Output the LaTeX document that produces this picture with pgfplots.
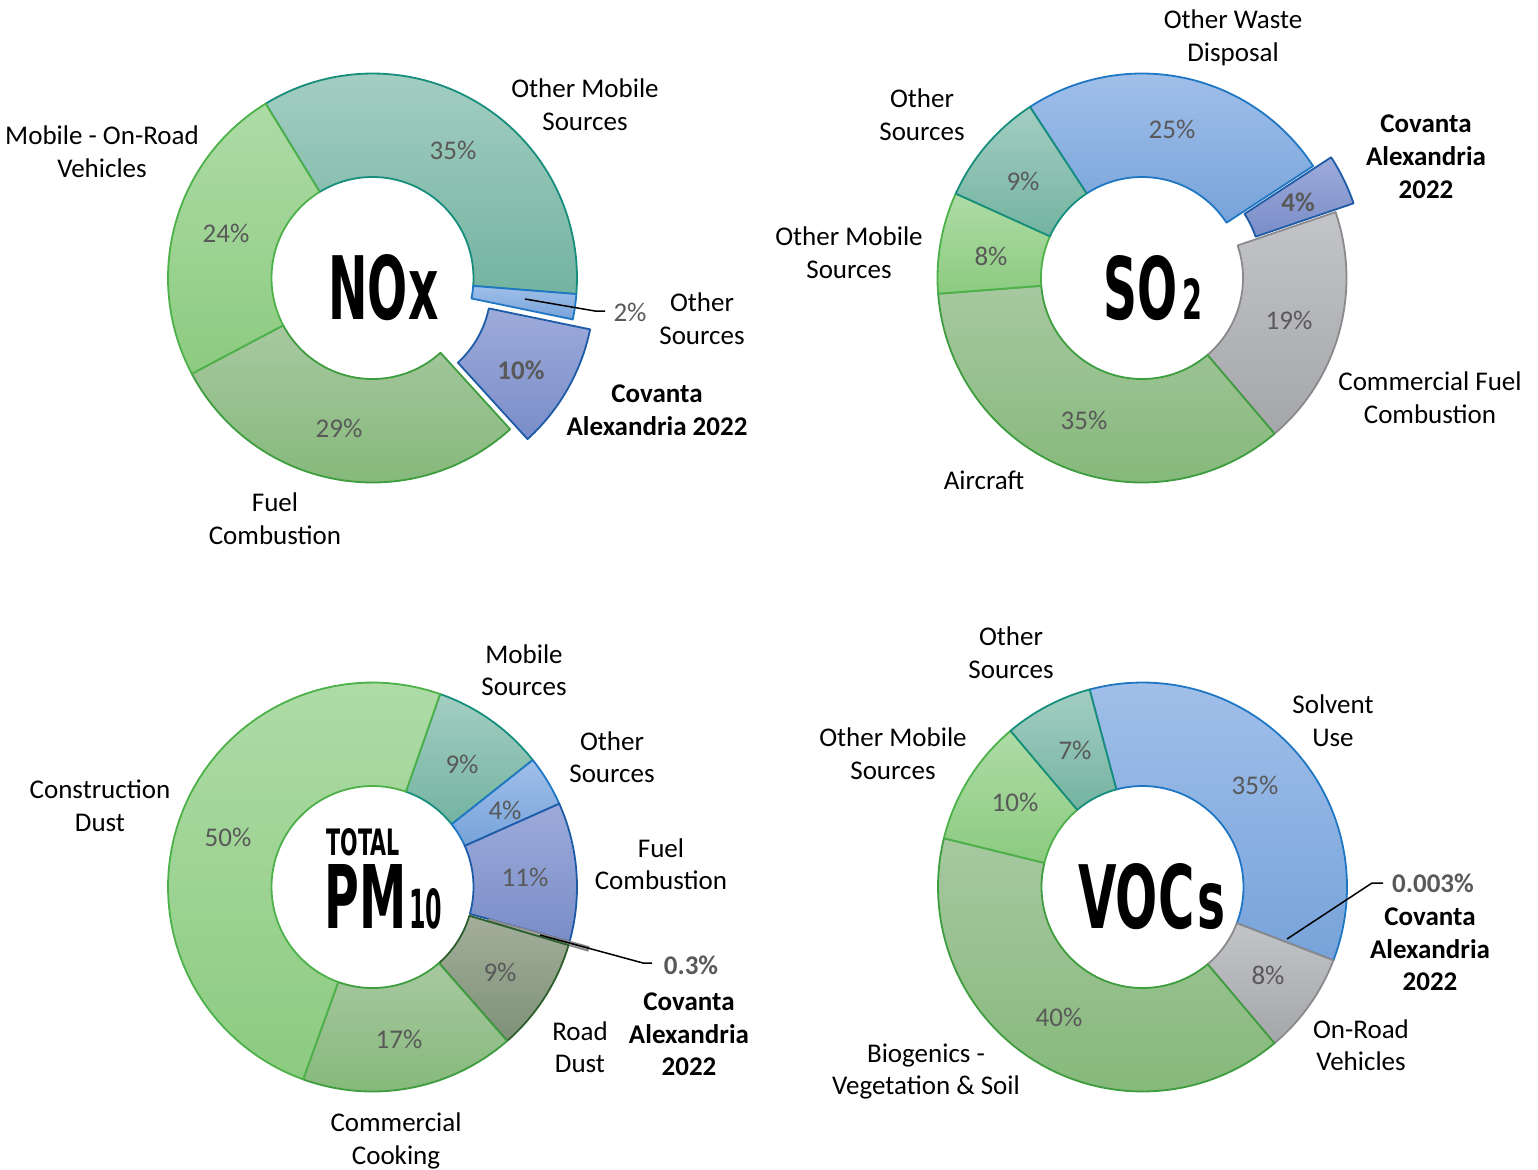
\documentclass[border=0pt]{standalone}
\usepackage{pgfplots}
\pgfplotsset{compat=1.18}
\usepackage{fontspec}
\usepackage{graphicx}
\setmainfont{Carlito}
\newfontfamily\titlefont{DejaVu Sans Condensed}

\definecolor{tealT}{HTML}{A3CEC2}\definecolor{tealB}{HTML}{74B3A1}\definecolor{tealD}{HTML}{168E7C}
\definecolor{lgrT}{HTML}{AEDBA6}\definecolor{lgrB}{HTML}{8CCB80}\definecolor{lgrD}{HTML}{4DB14A}
\definecolor{grT}{HTML}{A7C8A0}\definecolor{grB}{HTML}{86B97B}\definecolor{grD}{HTML}{3E9D3E}
\definecolor{blT}{HTML}{A0BFE9}\definecolor{blB}{HTML}{77A3DA}\definecolor{blD}{HTML}{1F77C4}
\definecolor{puT}{HTML}{9DABDA}\definecolor{puB}{HTML}{7A8DC8}\definecolor{puD}{HTML}{1E5BA6}
\definecolor{gyT}{HTML}{C3C4C7}\definecolor{gyB}{HTML}{A5A6AA}\definecolor{gyD}{HTML}{8A8A8C}
\definecolor{rdT}{HTML}{A3AE9B}\definecolor{rdB}{HTML}{7E9177}\definecolor{rdD}{HTML}{2C5E2C}
\definecolor{pctgray}{HTML}{595959}

\tikzset{
  s-teal/.style={top color=tealT,bottom color=tealB,draw=tealD},
  s-lgreen/.style={top color=lgrT,bottom color=lgrB,draw=lgrD},
  s-green/.style={top color=grT,bottom color=grB,draw=grD},
  s-blue/.style={top color=blT,bottom color=blB,draw=blD},
  s-pur/.style={top color=puT,bottom color=puB,draw=puD},
  s-gray/.style={top color=gyT,bottom color=gyB,draw=gyD},
  s-road/.style={top color=rdT,bottom color=rdB,draw=rdD},
}

\def\Ro{204.5}
\def\Ri{101}
\newcommand\donut[4]{\gdef\dcx{#1}\gdef\dcy{#2}\gdef\dang{#3}\gdef\dtot{#4}}
% ring segment: outer arc a->b, then inner arc b->a (122 samples over t in [0,2])
\newcommand\seg[3][0]{%
  \pgfmathsetmacro\segA{\dang}%
  \pgfmathsetmacro\segB{\dang+(#2/\dtot)*360}%
  \pgfmathsetmacro\segM{(\segA+\segB)/2}%
  \pgfmathsetmacro\segX{\dcx+#1*sin(\segM)}%
  \pgfmathsetmacro\segY{\dcy-#1*cos(\segM)}%
  \edef\doseg{\noexpand\addplot[#3, line width=0.9pt, line join=round, domain=0:2, samples=122]
    ({\segX+(x<1?\Ro:\Ri)*sin(\segA+(\segB-\segA)*min(1,(x<1?x:2-x)*1.0083333))},
     {\segY-(x<1?\Ro:\Ri)*cos(\segA+(\segB-\segA)*min(1,(x<1?x:2-x)*1.0083333))}) -- cycle;}%
  \doseg
  \global\let\dang\segB}

\newcommand\lf{\fontsize{13.5}{16.5}\selectfont}
\newcommand\tl[4][]{\node[anchor=base, inner sep=0pt, font=\lf, #1] at (axis cs:#2,#3) {#4};}
\newcommand\pl[4][]{\node[anchor=base, inner sep=0pt, font=\lf, text=pctgray, #1] at (axis cs:#2,#3) {#4};}
\newcommand\tf{\titlefont\bfseries}

\begin{document}
\begin{tikzpicture}
\begin{axis}[x=0.5pt, y=0.5pt, xmin=0, xmax=1538, ymin=0, ymax=1169, y dir=reverse,
  hide axis, clip=false]
\path (axis cs:0,0) rectangle (axis cs:1538,1169);

% ---------------- NOx ----------------
\donut{372.5}{278}{328.5}{100}
\seg{35}{s-teal}
\seg{2}{s-blue}
\seg[20]{10}{s-pur}
\seg{29}{s-green}
\seg{24}{s-lgreen}
\addplot[black, line width=0.75pt] coordinates {(525,299) (595,311) (605,311)};
\node[anchor=base west, inner sep=0pt] at (axis cs:328,319) {\resizebox{55pt}{32.5pt}{\tf NOx}};
\tl{585}{97}{Other Mobile}
\tl{585}{130}{Sources}
\tl{102}{144}{Mobile - On-Road}
\tl{102}{177}{Vehicles}
\tl{702}{311}{Other}
\tl{702}{344}{Sources}
\tl[font=\lf\bfseries]{657}{402}{Covanta}
\tl[font=\lf\bfseries]{657}{435}{Alexandria 2022}
\tl{275}{511}{Fuel}
\tl{275}{544}{Combustion}
\pl{453}{159}{35\%}
\pl{226}{242}{24\%}
\pl{339}{437}{29\%}
\pl[font=\lf\bfseries]{521}{379}{10\%}
\pl{630}{321}{2\%}

% ---------------- SO2 ----------------
\donut{1142}{278}{326.8}{100}
\seg{25}{s-blue}
\seg[20]{4}{s-pur}
\seg{19}{s-gray}
\seg{35}{s-green}
\seg{8}{s-lgreen}
\seg{9}{s-teal}
\node[anchor=base west, inner sep=0pt] at (axis cs:1103,319) {\resizebox{37pt}{32pt}{\tf SO}\kern2.5pt\resizebox{10pt}{20.5pt}{\tf 2}};
\tl{1233}{28}{Other Waste}
\tl{1233}{61}{Disposal}
\tl{922}{107}{Other}
\tl{922}{140}{Sources}
\tl[font=\lf\bfseries]{1426}{132}{Covanta}
\tl[font=\lf\bfseries]{1426}{165}{Alexandria}
\tl[font=\lf\bfseries]{1426}{198}{2022}
\tl{849}{245}{Other Mobile}
\tl{849}{278}{Sources}
\tl{1430}{390}{Commercial Fuel}
\tl{1430}{423}{Combustion}
\tl{984}{489}{Aircraft}
\pl{1172}{138}{25\%}
\pl{1023}{190}{9\%}
\pl{991}{265}{8\%}
\pl[font=\lf\bfseries]{1298}{211}{4\%}
\pl{1289}{329}{19\%}
\pl{1084}{429}{35\%}

% ---------------- PM10 ----------------
\donut{372.5}{887}{19.3}{100.3}
\seg{9}{s-teal}
\seg{4}{s-blue}
\seg{11}{s-pur}
\seg[20]{0.3}{s-gray}
\seg{9}{s-road}
\seg{17}{s-green}
\seg{50}{s-lgreen}
\addplot[black, line width=0.75pt] coordinates {(540,935) (643,963) (652,963)};
\node[anchor=base west, inner sep=0pt] at (axis cs:324,928) {\vbox{\hbox{\kern1pt\resizebox{36.5pt}{13.5pt}{\tf TOTAL}}\kern3pt\hbox{\resizebox{41pt}{32pt}{\tf PM}\kern1.5pt\resizebox{16.5pt}{20pt}{\tf 10}}}};
\tl{524}{663}{Mobile}
\tl{524}{695}{Sources}
\tl{612}{750}{Other}
\tl{612}{782}{Sources}
\tl{100}{798}{Construction}
\tl{100}{831}{Dust}
\tl{661}{857}{Fuel}
\tl{661}{889}{Combustion}
\pl[font=\lf\bfseries]{691}{974}{0.3\%}
\tl[font=\lf\bfseries]{689}{1010}{Covanta}
\tl[font=\lf\bfseries]{689}{1043}{Alexandria}
\tl[font=\lf\bfseries]{689}{1075}{2022}
\tl{580}{1040}{Road}
\tl{580}{1072}{Dust}
\tl{396}{1131}{Commercial}
\tl{396}{1164}{Cooking}
\pl{228}{846}{50\%}
\pl{462}{773}{9\%}
\pl{505}{819}{4\%}
\pl{525}{886}{11\%}
\pl{500}{981}{9\%}
\pl{399}{1048}{17\%}

% ---------------- VOCs ----------------
\donut{1142.5}{887}{345}{100.003}
\seg{35}{s-blue}
\seg{0.003}{s-gray}
\seg{8}{s-gray}
\seg{40}{s-green}
\seg{10}{s-lgreen}
\seg{7}{s-teal}
\addplot[black, line width=0.75pt] coordinates {(1287,939) (1372,883) (1383,883)};
\node[anchor=base west, inner sep=0pt] at (axis cs:1078,928) {\resizebox{58pt}{32.5pt}{\tf VOC}\kern1.5pt\resizebox{14pt}{22.5pt}{\tf s}};
\tl{1011}{645}{Other}
\tl{1011}{678}{Sources}
\tl{1333}{713}{Solvent}
\tl{1333}{746}{Use}
\tl{893}{746}{Other Mobile}
\tl{893}{779}{Sources}
\pl[font=\lf\bfseries]{1433}{892}{0.003\%}
\tl[font=\lf\bfseries]{1430}{925}{Covanta}
\tl[font=\lf\bfseries]{1430}{958}{Alexandria}
\tl[font=\lf\bfseries]{1430}{990}{2022}
\tl{1361}{1038}{On-Road}
\tl{1361}{1070}{Vehicles}
\tl{926}{1062}{Biogenics -}
\tl{926}{1094}{Vegetation \& Soil}
\pl{1255}{794}{35\%}
\pl{1075}{759}{7\%}
\pl{1015}{811}{10\%}
\pl{1059}{1026}{40\%}
\pl{1268}{984}{8\%}
\end{axis}
\end{tikzpicture}
\end{document}
